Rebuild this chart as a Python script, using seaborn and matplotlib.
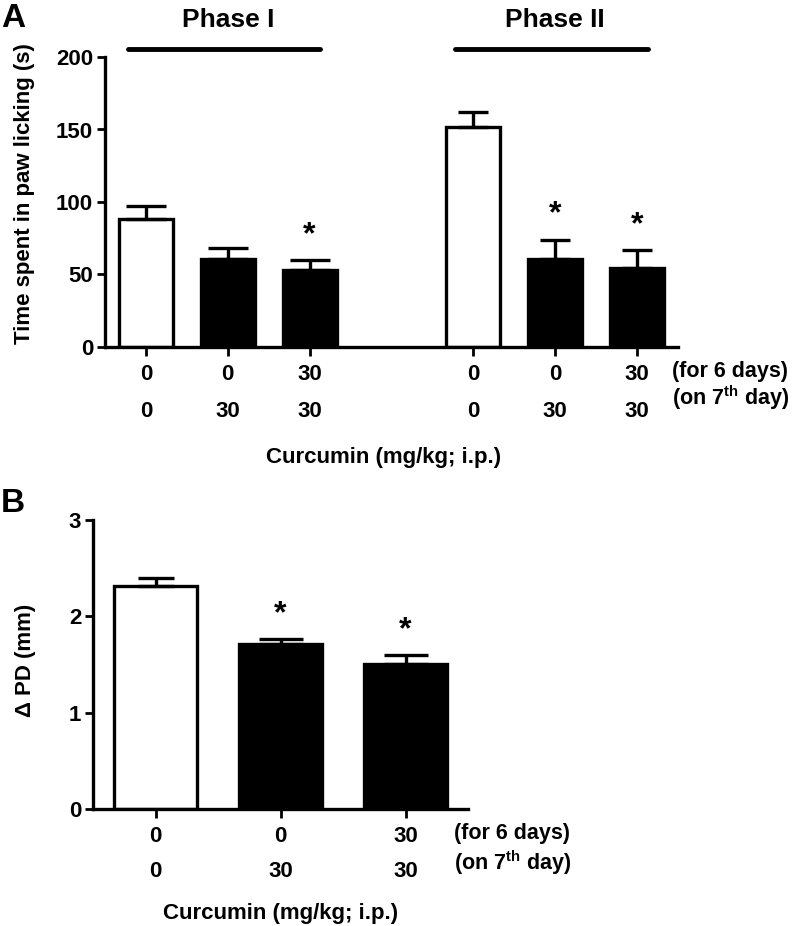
import matplotlib
matplotlib.use('Agg')
import matplotlib.pyplot as plt
import matplotlib.transforms as mtransforms
import seaborn as sns
import pandas as pd

# ---------------- data ----------------
# Panel A : formalin test, two phases, three groups each
bars_A = ['I-a', 'I-b', 'I-c', 'II-a', 'II-b', 'II-c']
phase_of_bar_A = ['Phase I', 'Phase I', 'Phase I', 'Phase II', 'Phase II', 'Phase II']
means_A = [88, 61, 52.8, 152, 61, 54.3]
sem_A = [9, 7.6, 7.3, 10.4, 13, 12.7]
treat_A = ['vehicle', 'curcumin', 'curcumin', 'vehicle', 'curcumin', 'curcumin']
pre_A = ['0', '0', '30', '0', '0', '30']       # for 6 days
day7_A = ['0', '30', '30', '0', '30', '30']    # on 7th day
sig_A = [False, False, True, False, True, True]
phases = ['Phase I', 'Phase II']
yticks_A = [0, 50, 100, 150, 200]

# Panel B : paw diameter
bars_B = ['a', 'b', 'c']
means_B = [2.31, 1.71, 1.51]
sem_B = [0.09, 0.05, 0.09]
treat_B = ['vehicle', 'curcumin', 'curcumin']
pre_B = ['0', '0', '30']
day7_B = ['0', '30', '30']
sig_B = [False, True, True]
yticks_B = [0, 1, 2, 3]

row1_text = '(for 6 days)'
row2_text = r'(on 7$^{\mathbf{th}}$ day)'
xlabel_text = 'Curcumin (mg/kg; i.p.)'
ylabel_A = 'Time spent in paw licking (s)'
ylabel_B = '\u0394 PD (mm)'

# ---------------- style ----------------
sns.set_theme(style='ticks')
plt.rcParams['font.family'] = ['Liberation Sans', 'DejaVu Sans']
plt.rcParams['font.weight'] = 'bold'
for k in ['text.color', 'axes.labelcolor', 'xtick.color', 'ytick.color',
          'axes.edgecolor']:
    plt.rcParams[k] = 'black'
plt.rcParams['mathtext.fontset'] = 'custom'
plt.rcParams['mathtext.rm'] = 'Liberation Sans'
plt.rcParams['mathtext.bf'] = 'Liberation Sans:bold'
LW = 2.4
FS = 16
FS_NOTE = 15.5
palette = {'vehicle': 'white', 'curcumin': 'black'}

fig = plt.figure(figsize=(7.96, 9.26), dpi=100)
W, H = 796, 926
axA = fig.add_axes([105 / W, 1 - 347 / H, 573 / W, 290 / H])
axB = fig.add_axes([93 / W, 1 - 809 / H, 375 / W, 289 / H])


def px(v):
    return v * 0.72


def draw_panel(ax, bars, order, means, sem, treat, pre, day7, sig, yticks,
               ylabel, label_xy, rows, note_rows, note_dx, xlabel_off, xlabel_x,
               caps):
    df = pd.DataFrame({'bar': bars, 'mean': means, 'sem': sem, 'treat': treat})
    sns.barplot(data=df, x='bar', y='mean', hue='treat', order=order,
                palette=palette, dodge=False, width=0.66, edgecolor='black',
                linewidth=LW, errorbar=None, legend=False, ax=ax)
    xpos = [order.index(b) for b in bars]
    for x, m, s, c in zip(xpos, means, sem, caps):
        ax.errorbar([x], [m], yerr=[[0], [s]], fmt='none', ecolor='black',
                    elinewidth=LW, capsize=c, capthick=LW, zorder=1)
    # significance stars
    for x, m, s, g in zip(xpos, means, sem, sig):
        if g:
            ax.annotate('*', xy=(x, m + s), xytext=(0, 18), textcoords='offset points',
                        ha='center', va='center', fontsize=23, fontweight='bold')
    ax.set_xlim(-0.5, len(order) - 0.5)
    ax.set_ylim(yticks[0], yticks[-1])
    ax.set_yticks(yticks)
    ax.set_yticklabels([str(t) for t in yticks], fontsize=FS, fontweight='bold')
    ax.set_xticks(xpos)
    ax.set_xticklabels([])
    ax.set_xlabel('')
    ax.set_ylabel(ylabel, fontsize=FS, fontweight='bold')
    ax.yaxis.set_label_coords(*label_xy)
    ax.yaxis.label.set_va('center')
    ax.yaxis.label.set_ha('center')
    for sp in ['top', 'right']:
        ax.spines[sp].set_visible(False)
    for sp in ['left', 'bottom']:
        ax.spines[sp].set_linewidth(LW)
    ax.tick_params(axis='y', length=5.5, width=2, pad=3)
    ax.tick_params(axis='x', length=6.5, width=2)
    # two rows of dose labels
    for x, a, b in zip(xpos, pre, day7):
        for txt, off in [(a, rows[0]), (b, rows[1])]:
            ax.annotate(txt, xy=(x, 0), xycoords=('data', 'axes fraction'),
                        xytext=(0, -px(off)), textcoords='offset points',
                        ha='center', va='baseline', fontsize=FS, fontweight='bold')
    last = xpos[-1]
    for txt, off in [(row1_text, note_rows[0]), (row2_text, note_rows[1])]:
        ax.annotate(txt, xy=(last, 0), xycoords=('data', 'axes fraction'),
                    xytext=(px(note_dx), -px(off)), textcoords='offset points',
                    ha='left', va='baseline', fontsize=FS_NOTE, fontweight='bold')
    ax.annotate(xlabel_text, xy=(xlabel_x, 0), xycoords=('data', 'axes fraction'),
                xytext=(0, -px(xlabel_off)), textcoords='offset points',
                ha='center', va='baseline', fontsize=FS, fontweight='bold')
    return xpos


order_A = bars_A[:3] + ['gap'] + bars_A[3:]
xposA = draw_panel(axA, bars_A, order_A, means_A, sem_A, treat_A, pre_A, day7_A,
                   sig_A, yticks_A, ylabel_A, (-0.141, 0.528), (33, 70), (30, 58),
                   35, 116, 2.9, [14.5, 14.5, 14.5, 11, 11, 11])
xposB = draw_panel(axB, bars_B, bars_B, means_B, sem_B, treat_B, pre_B, day7_B,
                   sig_B, yticks_B, ylabel_B, (-0.179, 0.516), (33, 68), (30, 61),
                   48, 110, 1.0, [13, 15.5, 15.5])

# phase bars & titles
trA = mtransforms.blended_transform_factory(axA.transData, axA.transAxes)
for ph in phases:
    xs = [x for x, p in zip(xposA, phase_of_bar_A) if p == ph]
    axA.plot([xs[0] - 0.22, xs[-1] + 0.13], [1.0276, 1.0276], transform=trA,
             color='black', lw=3.5, solid_capstyle='round', clip_on=False)
    axA.text(xs[len(xs) // 2], 1.1034, ph, transform=trA, ha='center',
             va='baseline', fontsize=19, fontweight='bold')

fig.text(1 / W, 1 - 27 / H, 'A', ha='left', va='baseline', fontsize=24,
         fontweight='bold')
fig.text(1 / W, 1 - 512 / H, 'B', ha='left', va='baseline', fontsize=24,
         fontweight='bold')

fig.savefig('out.png', dpi=100, facecolor='white')
